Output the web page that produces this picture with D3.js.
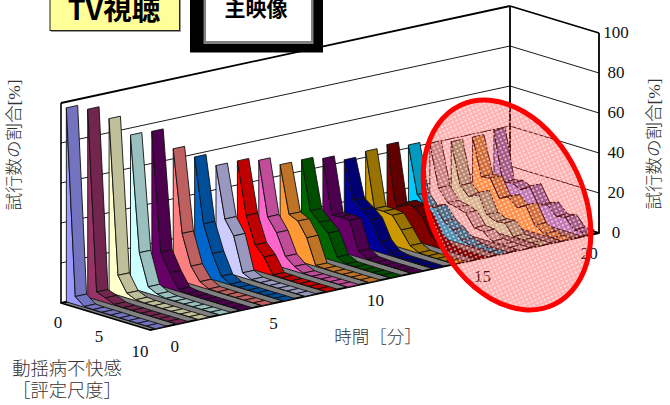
<!DOCTYPE html>
<html lang="ja">
<head>
<meta charset="utf-8">
<script src="https://cdn.jsdelivr.net/npm/d3@7/dist/d3.min.js"></script>
<style>
html,body{margin:0;padding:0;background:#fff;overflow:hidden}
svg{display:block}
text{font-family:"Liberation Serif","Noto Sans CJK JP",serif}
</style>
</head>
<body>
<svg id="chart" width="670" height="405"></svg>
<script>
// Share of trials [%] per discomfort score 0..10, one list per elapsed minute
const minute0  = [97,4,0.4,0.2,0.2,0.2,0.1,0.1,0.1,0.1,0.1];
const minute1  = [94,4,2.4,0.5,0.2,0.2,0.1,0.1,0.1,0.1,0.1];
const minute2  = [87,10,2.4,0.5,0.2,0.2,0.1,0.1,0.1,0.1,0.1];
const minute3  = [76.5,19,3.3,1,0.2,0.2,0.1,0.1,0.1,0.1,0.1];
const minute4  = [76,17,8,1,0.3,0.2,0.1,0.1,0.1,0.1,0.1];
const minute5  = [65,24,9,2.6,0.3,0.2,0.1,0.1,0.1,0.1,0.1];
const minute6  = [58.6,26.5,13,3,0.4,0.2,0.1,0.1,0.1,0.1,0.1];
const minute7  = [52,26.6,19.5,2.4,0.4,0.2,0.1,0.1,0.1,0.1,0.1];
const minute8  = [52,26,12.7,8,0.4,0.3,0.1,0.1,0.1,0.1,0.1];
const minute9  = [50,23,16.5,6,2.3,0.3,0.1,0.1,0.1,0.1,0.1];
const minute10 = [45.5,22,20,13,0.5,0.3,0.1,0.1,0.1,0.1,0.1];
const minute11 = [45.6,21.5,17,13,2.4,0.3,0.2,0.1,0.1,0.1,0.1];
const minute12 = [44,17,17.5,17,3,0.5,0.2,0.1,0.1,0.1,0.1];
const minute13 = [41,22,18.7,15,5.5,1,0.2,0.1,0.1,0.1,0.1];
const minute14 = [43,15.6,15.6,15,9,2.5,0.3,0.1,0.1,0.1,0.1];
const minute15 = [44,14,17.6,17,13,5,1,0.2,0.1,0.1,0.1];
const minute16 = [41.5,18,13,14.5,8.7,5.7,2,0.5,0.1,0.1,0.1];
const minute17 = [40,19,13,12,10.6,4.5,4,0.5,0.2,0.1,0.1];
const minute18 = [38.5,18,13.7,17,7.4,5.4,6,0.5,0.2,0.1,0.1];
const minute19 = [38.5,20,20.7,12,14,10,12.5,4,1,0.3,0.1];
const minute20 = [39.5,15,16,14,17,9,10.5,6,7,2,2];
const minuteSeries = [minute0,minute1,minute2,minute3,minute4,minute5,minute6,minute7,
  minute8,minute9,minute10,minute11,minute12,minute13,minute14,minute15,minute16,
  minute17,minute18,minute19,minute20];

const ribbonColors = ["#9999FF","#993366","#FFFFCC","#CCFFFF","#660066","#FF8080","#0066CC",
  "#CCCCFF","#FF0000","#FF66CC","#FF9933","#006600","#660066","#000099","#CC9900","#800000",
  "#00CCFF","#F4F4F4","#CCFFCC","#FFCC66","#A8A8FF"];

const shareTicks = [0,20,40,60,80,100];
const scoreTicks = [0,5,10];
const timeTicks  = [0,5,10,15,20];

const svg = d3.select("#chart");

// Oblique 3D projection built from linear scales: time runs along the back wall,
// score runs towards the viewer, share runs straight up.
const timeX  = d3.scaleLinear().domain([0,21]).range([61,510]);
const timeY  = d3.scaleLinear().domain([0,21]).range([303,206]);
const scoreX = d3.scaleLinear().domain([0,10]).range([0,89]);
const scoreY = d3.scaleLinear().domain([0,10]).range([0,27]);
const shareH = d3.scaleLinear().domain([0,100]).range([0,200]);
const project = (t,s,v) => [timeX(t)+scoreX(s), timeY(t)+scoreY(s)-shareH(v)];
const poly = pts => "M"+pts.map(p=>p.join(",")).join("L")+"Z";
const line = (a,b,w) => svg.append("line")
  .attr("x1",a[0]).attr("y1",a[1]).attr("x2",b[0]).attr("y2",b[1])
  .attr("stroke","#000").attr("stroke-width",w);

const tMax = 21, sMax = 10, vMax = 100;

// Walls
svg.append("path")
  .attr("d",poly([project(0,0,0),project(0,0,vMax),project(tMax,0,vMax),project(tMax,0,0)]))
  .attr("fill","#fff");
shareTicks.filter(v=>v>0&&v<vMax).forEach(v=>{
  line(project(0,0,v),project(tMax,0,v),0.9);
  line(project(tMax,0,v),project(tMax,sMax,v),0.9);
});
line(project(0,0,0),project(0,0,vMax),1.6);
line(project(0,0,vMax),project(tMax,0,vMax),1.8);
line(project(tMax,0,vMax),project(tMax,sMax,vMax),1.8);
line(project(tMax,0,0),project(tMax,0,vMax),1.8);
line(project(tMax,sMax,0),project(tMax,sMax,vMax),1.8);
line(project(tMax,0,0),project(tMax,sMax,0),1.2);

// Floor
svg.append("path")
  .attr("d",poly([project(0,0,0),project(0,sMax,0),project(tMax,sMax,0),project(tMax,0,0)]))
  .attr("fill","#808080").attr("stroke","#000").attr("stroke-width",1.8).attr("stroke-linejoin","round");

// Ribbons are painted from the far right to the near left so nearer ones overlap
const ribbonStart = 0.25, ribbonEnd = 0.78;
const ribbons = svg.append("g").attr("stroke","#111").attr("stroke-width",0.9).attr("stroke-linejoin","round");
d3.range(minuteSeries.length-1,-1,-1).forEach(i=>{
  const vals = minuteSeries[i];
  const base = d3.color(ribbonColors[i]);
  const shade = d3.rgb(base.r*0.75,base.g*0.75,base.b*0.75).formatHex();
  const t0 = i+ribbonStart, t1 = i+ribbonEnd;
  const g = ribbons.append("g");
  const side = vals.map((v,s)=>project(t0,s,v));
  const foot = vals.map((v,s)=>project(t0,s,0)).reverse();
  g.append("path").attr("d",poly(side.concat(foot))).attr("fill",base.formatHex());
  g.selectAll("path.top").data(d3.range(vals.length-1)).join("path").attr("class","top")
    .attr("d",s=>poly([project(t0,s,vals[s]),project(t1,s,vals[s]),project(t1,s+1,vals[s+1]),project(t0,s+1,vals[s+1])]))
    .attr("fill",shade);
});

// Axis labels
const numStyle = sel => sel.attr("font-size",17).attr("fill","#111").attr("text-anchor","middle").attr("dominant-baseline","central");
svg.append("g").selectAll("text").data(shareTicks).join("text").call(numStyle)
  .attr("x",project(tMax,sMax,0)[0]+17).attr("y",v=>project(tMax,sMax,v)[1]-1).text(v=>v);
svg.append("g").selectAll("text").data(scoreTicks).join("text").call(numStyle)
  .attr("x",s=>project(0,s,0)[0]-3-0.7*s).attr("y",s=>project(0,s,0)[1]+19+0.2*s).text(s=>s);
const firstTickShift = t => t===0?13:(t===5?5:0);
svg.append("g").selectAll("text").data(timeTicks).join("text").call(numStyle)
  .attr("x",t=>project(t+0.5,sMax,0)[0]+1+firstTickShift(t))
  .attr("y",t=>project(t+0.5,sMax,0)[1]+18.5).text(t=>t);

const titleStyle = sel => sel.attr("font-size",17.5).attr("font-weight",300).attr("fill","#333").attr("text-anchor","middle").attr("dominant-baseline","central");
svg.append("text").call(titleStyle).attr("transform","translate(14,145) rotate(-90)").text("試行数の割合[%]");
svg.append("text").call(titleStyle).attr("transform","translate(654,144) rotate(-90)").text("試行数の割合[%]");
svg.append("text").call(titleStyle).attr("x",378).attr("y",337).text("時間［分］");
svg.append("text").call(titleStyle).attr("font-size",18.3).attr("x",67).attr("y",369).text("動揺病不快感");
svg.append("text").call(titleStyle).attr("font-size",18.3).attr("x",67).attr("y",391).text("［評定尺度］");

// Hatched highlight ellipse over the last minutes
const defs = svg.append("defs");
const dots = defs.append("pattern").attr("id","dots").attr("patternUnits","userSpaceOnUse")
  .attr("width",4).attr("height",4);
dots.append("rect").attr("width",4).attr("height",4).attr("fill","#f00").attr("fill-opacity",0.3);
dots.append("rect").attr("x",1).attr("y",1).attr("width",2).attr("height",2).attr("fill","#fff").attr("fill-opacity",0.5);
dots.append("rect").attr("x",1.5).attr("y",1.5).attr("width",1).attr("height",1).attr("fill","#fff").attr("fill-opacity",0.6);
svg.append("ellipse").attr("transform","translate(507,205) rotate(-25)")
  .attr("rx",77).attr("ry",110)
  .attr("fill","url(#dots)").attr("stroke","#f00").attr("stroke-width",5);

// Caption boxes cut by the top edge
svg.append("rect").attr("x",51).attr("y",-20).attr("width",130).attr("height",52).attr("fill","#999");
svg.append("rect").attr("x",50).attr("y",-20).attr("width",129.5).attr("height",50.5)
  .attr("fill","#FFFF99").attr("stroke","#222").attr("stroke-width",1);
svg.append("text").attr("x",114).attr("y",7).attr("text-anchor","middle").attr("dominant-baseline","central")
  .attr("font-size",28.5).attr("font-weight",700).attr("fill","#000")
  .style("font-family",'"Noto Sans CJK JP",sans-serif').text("TV視聴");
svg.append("rect").attr("x",190).attr("y",-20).attr("width",133).attr("height",72.5).attr("fill","#000");
svg.append("rect").attr("x",203.5).attr("y",-20).attr("width",110).attr("height",64).attr("fill","#808080");
svg.append("rect").attr("x",206).attr("y",-20).attr("width",105).attr("height",61).attr("fill","#fff");
svg.append("text").attr("x",256).attr("y",6.5).attr("text-anchor","middle").attr("dominant-baseline","central")
  .attr("font-size",21).attr("font-weight",700).attr("fill","#000")
  .style("font-family",'"Noto Sans CJK JP",sans-serif').text("主映像");
</script>
</body>
</html>
